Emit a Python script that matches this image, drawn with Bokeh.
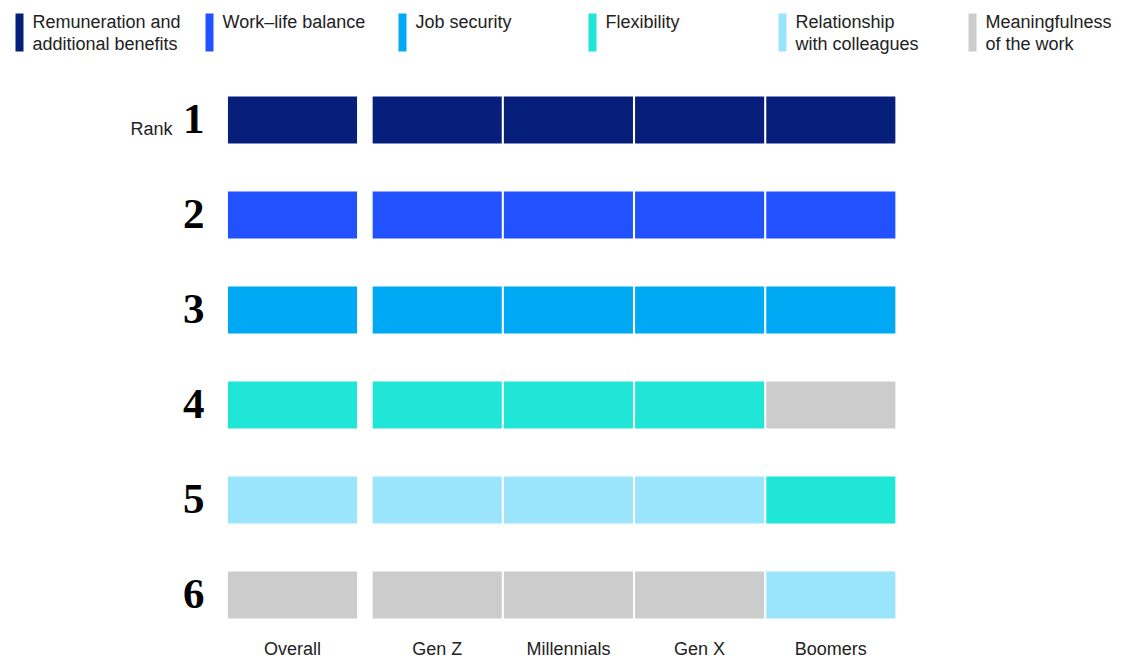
from bokeh.plotting import figure
from bokeh.models import Range1d, ColumnDataSource
from bokeh.core.properties import value
from bokeh.embed import file_html
from bokeh.resources import INLINE

# ---------------- data ----------------
categories = [
    "Remuneration and additional benefits",
    "Work–life balance",
    "Job security",
    "Flexibility",
    "Relationship with colleagues",
    "Meaningfulness of the work",
]
legend_labels = [
    "Remuneration and\nadditional benefits",
    "Work–life balance",
    "Job security",
    "Flexibility",
    "Relationship\nwith colleagues",
    "Meaningfulness\nof the work",
]
colors = ["#061f7a", "#2251ff", "#00a9f4", "#1fe6d6", "#9be5fc", "#cccccc"]
groups = ["Overall", "Gen Z", "Millennials", "Gen X", "Boomers"]
rank_numbers = [1, 2, 3, 4, 5, 6]
# rank of each category (in `categories` order) within each group
rank_overall = [1, 2, 3, 4, 5, 6]
rank_genz = [1, 2, 3, 4, 5, 6]
rank_millennials = [1, 2, 3, 4, 5, 6]
rank_genx = [1, 2, 3, 4, 5, 6]
rank_boomers = [1, 2, 3, 5, 6, 4]
group_ranks = [rank_overall, rank_genz, rank_millennials, rank_genx, rank_boomers]

# ---------------- layout ----------------
W, H = 1133, 660
PX = 131.2          # pixels per column unit
X0 = 292.0          # pixel of first column centre
PY = 95.0           # pixels per rank
Y0 = 119.5          # pixel of rank 1 centre
GAP = 0.103         # extra gap after "Overall"
BAR_W = 0.984
BAR_H = 0.495
BASE_SHIFT = 0.38   # baseline correction (fraction of font size)


def xd(px):
    return (px - X0) / PX


def yd(py):
    return 1 + (py - Y0) / PY


p = figure(
    width=W, height=H, output_backend="svg", toolbar_location=None,
    x_range=Range1d(xd(0), xd(W)), y_range=Range1d(yd(H), yd(0)),
    min_border=0, min_border_left=0, min_border_right=0,
    min_border_top=0, min_border_bottom=0,
)
p.axis.visible = False
p.grid.visible = False
p.outline_line_color = None
p.background_fill_color = "white"
p.border_fill_color = "white"

# bars
xs, ys, cs = [], [], []
group_x = []
for gi, ranks in enumerate(group_ranks):
    gx = gi + (GAP if gi > 0 else 0)
    group_x.append(gx)
    for ci, r in enumerate(ranks):
        xs.append(gx)
        ys.append(r)
        cs.append(colors[ci])
src = ColumnDataSource(dict(x=xs, y=ys, c=cs))
p.rect(x="x", y="y", width=BAR_W, height=BAR_H, fill_color="c",
       line_color=None, source=src)

# rank numbers
NUM_SIZE = 43
p.text(x=[xd(204)] * len(rank_numbers),
       y=[r + (15.5 - BASE_SHIFT * NUM_SIZE) / PY for r in rank_numbers],
       text=[str(r) for r in rank_numbers], text_align="right",
       text_baseline="alphabetic", text_font=value("Liberation Serif"),
       text_font_style="bold", text_font_size=f"{NUM_SIZE}px", text_color="#000000")
p.text(x=[xd(172)], y=[1 + (15.5 - BASE_SHIFT * 18) / PY], text=["Rank"], text_align="right",
       text_baseline="alphabetic", text_font=value("Liberation Sans"),
       text_font_size="18px", text_color="#222222")

# group labels
p.text(x=group_x, y=[yd(655 - BASE_SHIFT * 18)] * len(groups), text=groups, text_align="center",
       text_baseline="alphabetic", text_font=value("Liberation Sans"),
       text_font_size="18px", text_color="#222222")

# legend
leg_px = [15, 205, 398, 588, 778, 968]
lx_left = [xd(v) for v in leg_px]
lx_right = [xd(v + 8) for v in leg_px]
p.quad(left=lx_left, right=lx_right, top=[yd(13)] * 6, bottom=[yd(51)] * 6,
       fill_color=colors, line_color=None)
p.text(x=[xd(v + 17) for v in leg_px], y=[yd(11)] * 6, text=legend_labels,
       text_align="left", text_baseline="top", text_font=value("Liberation Sans"),
       text_font_size="18px", text_line_height=1.12, text_color="#222222")

open("out.html", "w").write(file_html(p, INLINE))
